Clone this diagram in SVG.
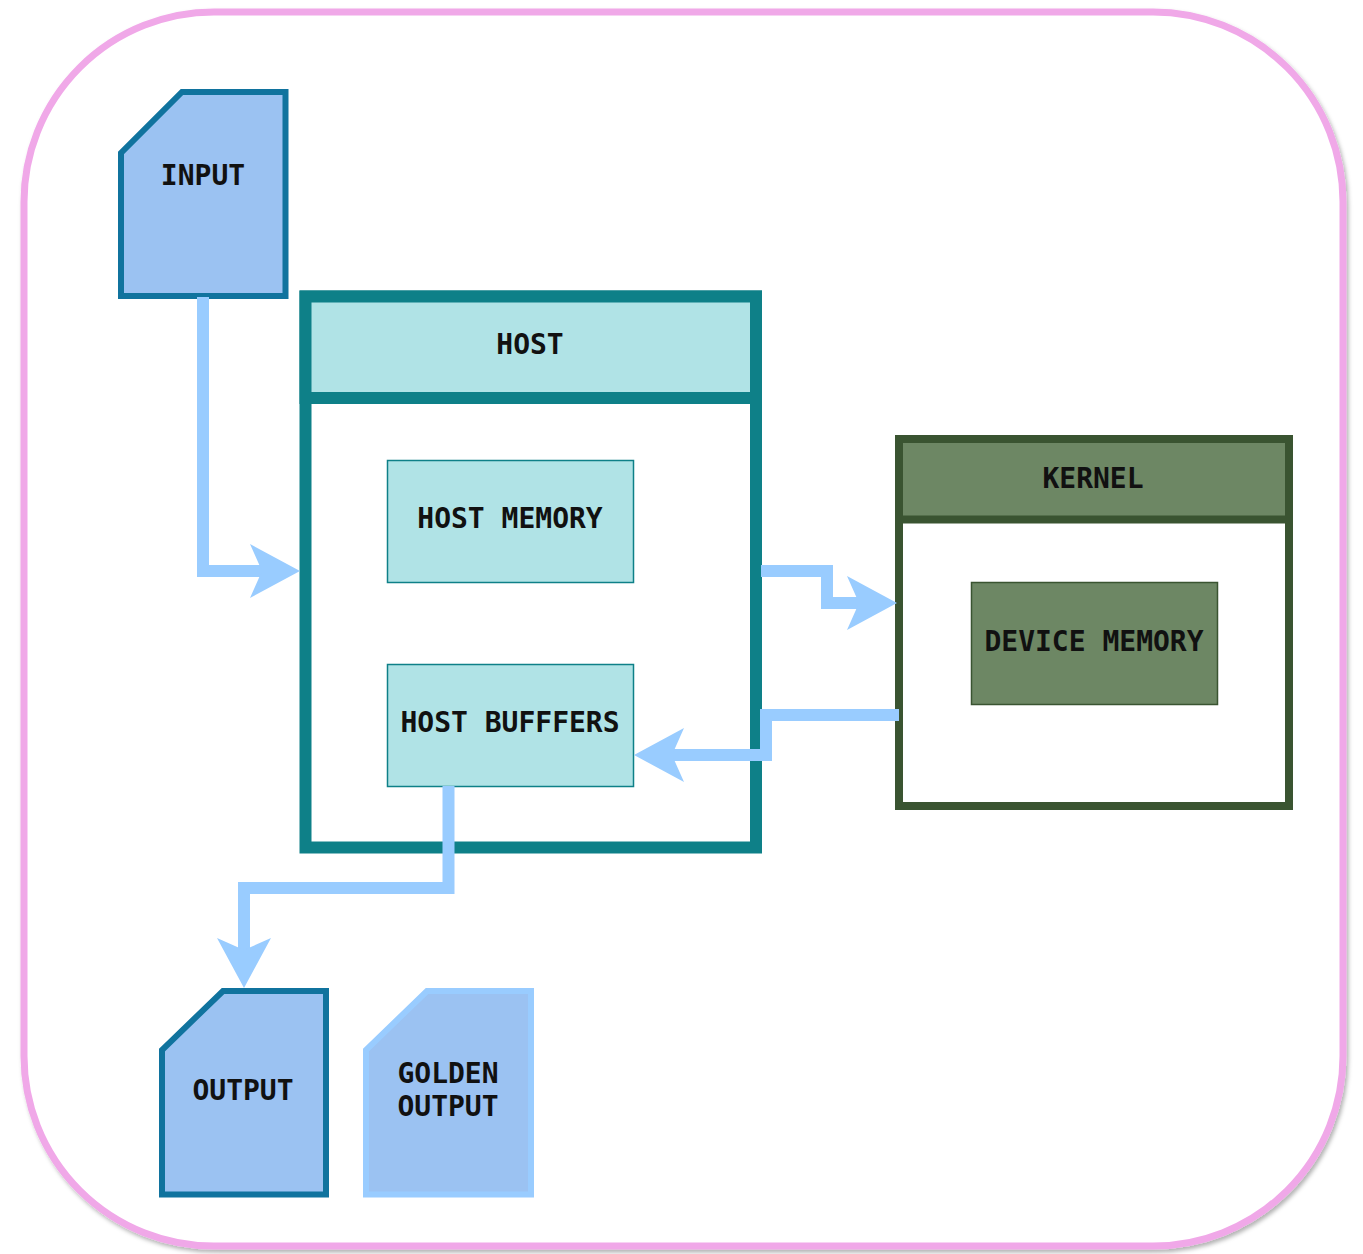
<svg xmlns="http://www.w3.org/2000/svg" width="1363" height="1254" viewBox="0 0 1363 1254">
<style>
.lbl{font-family:"DejaVu Sans Mono","Liberation Mono",monospace;font-weight:bold;font-size:28px;fill:#111;text-anchor:middle}
.doc{fill:#9BC2F2;stroke:#10739E;stroke-width:6;stroke-linejoin:miter}
.doc2{fill:#9BC2F2;stroke:#99CCFF;stroke-width:6;stroke-linejoin:miter}
.conn{fill:none;stroke:#99CCFF;stroke-width:12;stroke-linejoin:miter;stroke-linecap:butt}
.teal{fill:#B0E3E6;stroke:#0E8088}
.green{fill:#6D8764;stroke:#3A5431}
</style>
<defs>
<filter id="sh" x="-5%" y="-5%" width="110%" height="110%">
<feDropShadow dx="2" dy="3" stdDeviation="2" flood-color="#000" flood-opacity="0.3"/>
</filter>
<marker id="ah" markerUnits="userSpaceOnUse" viewBox="-15 -30 55 60" markerWidth="55" markerHeight="60" refX="0" refY="0" orient="auto">
<path d="M38,0 L-12,-27 L0,0 L-12,27 Z" fill="#99CCFF"/>
</marker>
</defs>
<rect width="1363" height="1254" fill="#fff"/>
<rect x="24" y="12" width="1319" height="1234" rx="190" ry="190" fill="#fff" stroke="#F0A8E8" stroke-width="7" filter="url(#sh)"/>

<g id="input">
<path class="doc" d="M182,92 H285.5 V296 H121 V153 Z"/>
<text class="lbl" x="203" y="185">INPUT</text>
</g>

<g id="host">
<rect x="305.5" y="296.5" width="450.5" height="551" fill="#fff" stroke="#0E8088" stroke-width="12"/>
<rect x="305.5" y="296.5" width="450.5" height="101.5" fill="#B0E3E6" stroke="#0E8088" stroke-width="12"/>
<text class="lbl" x="530" y="354">HOST</text>
</g>

<g id="host-memory">
<rect class="teal" x="387.5" y="460.5" width="246" height="122" stroke-width="1.5"/>
<text class="lbl" x="510" y="528">HOST MEMORY</text>
</g>

<g id="host-buffers">
<rect class="teal" x="387.5" y="664.5" width="246" height="122" stroke-width="1.5"/>
<text class="lbl" x="510" y="732">HOST BUFFFERS</text>
</g>

<g id="kernel">
<rect x="899" y="439" width="390" height="367" fill="#fff" stroke="#3A5431" stroke-width="8"/>
<rect x="899" y="439" width="390" height="80.5" fill="#6D8764" stroke="#3A5431" stroke-width="8"/>
<text class="lbl" x="1093" y="488">KERNEL</text>
</g>

<g id="device-memory">
<rect class="green" x="971.5" y="582.5" width="246" height="122" stroke-width="1.5"/>
<text class="lbl" x="1094" y="651">DEVICE MEMORY</text>
</g>

<g id="output">
<path class="doc" d="M223,991 H326 V1194.5 H162 V1050 Z"/>
<text class="lbl" x="243" y="1100">OUTPUT</text>
</g>

<g id="golden-output">
<path class="doc2" d="M427,991 H531 V1194.5 H366 V1050 Z"/>
<text class="lbl" x="448" y="1083">GOLDEN</text>
<text class="lbl" x="448" y="1116">OUTPUT</text>
</g>

<g id="connectors">
<path class="conn" d="M203,297 V571 H262" marker-end="url(#ah)"/>
<path class="conn" d="M761,571 H827 V603 H859" marker-end="url(#ah)"/>
<path class="conn" d="M899,715 H766 V755 H672" marker-end="url(#ah)"/>
<path class="conn" d="M448.5,786 V888 H244 V950" marker-end="url(#ah)"/>
</g>
</svg>
